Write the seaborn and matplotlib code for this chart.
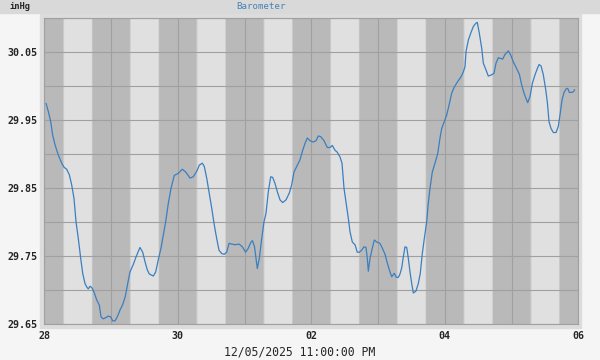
import numpy as np
import pandas as pd
import matplotlib
matplotlib.use("Agg")
import matplotlib.pyplot as plt
import seaborn as sns
from matplotlib.patches import Rectangle
from matplotlib.colors import to_rgb

# ---- data (hours since 28 Nov 00:00, barometer inHg) ----
hours = [0.61, 1.44, 2.30, 3.02, 3.85, 5.03, 6.26, 7.08, 8.05, 8.99, 9.85, 10.68, 11.40, 12.23,
         13.09, 13.81, 14.63, 15.25, 15.82, 16.43, 17.26, 17.98, 18.84, 19.78, 20.39, 21.21,
         22.18, 23.01, 23.87, 24.59, 25.42, 26.25, 27.22, 28.19, 29.12, 29.99, 30.81, 32.00,
         32.97, 34.41, 35.38, 36.21, 37.04, 37.75, 39.19, 40.06, 40.99, 41.96, 42.79, 43.65,
         44.59, 45.56, 46.74, 48.18, 49.62, 50.84, 52.39, 53.58, 54.80, 55.73, 56.81, 57.53,
         58.39, 59.22, 60.19, 61.12, 61.99, 62.81, 63.78, 64.72, 65.58, 66.41, 67.38, 68.57,
         70.00, 71.19, 72.41, 73.35, 74.32, 74.86, 75.58, 76.12, 76.59, 77.31, 78.17, 79.00,
         79.71, 80.54, 81.40, 82.12, 82.95, 83.78, 84.75, 85.72, 86.91, 88.09, 88.95, 89.78,
         90.97, 91.94, 92.91, 93.74, 94.56, 95.53, 96.72, 97.69, 98.52, 99.38, 100.57, 101.75,
         102.72, 103.55, 104.52, 105.35, 106.32, 107.04, 107.76, 108.48, 109.31, 109.92, 110.75,
         111.71, 112.54, 113.26, 114.12, 114.95, 115.67, 116.14, 116.50, 117.11, 117.94, 118.66,
         119.52, 120.70, 121.53, 122.50, 123.47, 124.30, 124.91, 125.84, 126.56, 127.28, 127.89,
         128.51, 129.08, 129.69, 130.31, 130.88, 131.49, 132.10, 132.68, 133.65, 134.47, 135.19,
         135.91, 136.63, 137.49, 138.07, 138.68, 139.51, 140.48, 141.45, 142.28, 142.89, 143.82,
         144.69, 145.51, 146.48, 147.42, 148.64, 149.83, 150.65, 151.27, 151.63, 152.46, 153.32,
         154.26, 155.23, 155.69, 156.41, 157.27, 157.85, 158.82, 159.64, 160.87, 161.69, 162.41,
         163.24, 164.10, 164.82, 165.65, 166.84, 167.70, 168.63, 169.85, 170.79, 171.65, 172.48,
         173.20, 173.81, 174.64, 175.46, 176.44, 177.26, 177.88, 178.60, 179.42, 180.29, 180.86,
         181.47, 182.19, 183.02, 183.99, 184.81, 185.43, 186.15, 186.87, 187.59, 188.19, 188.77,
         189.63, 190.21, 190.71]
pressure = [29.975, 29.963, 29.948, 29.928, 29.914, 29.899, 29.887, 29.881, 29.878, 29.870,
            29.855, 29.835, 29.801, 29.776, 29.747, 29.725, 29.710, 29.705, 29.702, 29.706,
            29.703, 29.696, 29.686, 29.678, 29.661, 29.658, 29.660, 29.662, 29.661, 29.655,
            29.655, 29.661, 29.671, 29.679, 29.691, 29.710, 29.727, 29.738, 29.749, 29.763,
            29.756, 29.742, 29.730, 29.724, 29.721, 29.727, 29.745, 29.762, 29.781, 29.801,
            29.828, 29.850, 29.869, 29.872, 29.878, 29.874, 29.865, 29.867, 29.875, 29.884,
            29.887, 29.882, 29.865, 29.845, 29.821, 29.796, 29.776, 29.759, 29.754, 29.753,
            29.756, 29.769, 29.768, 29.767, 29.768, 29.764, 29.756, 29.762, 29.771, 29.773,
            29.764, 29.747, 29.732, 29.747, 29.776, 29.801, 29.813, 29.845, 29.867, 29.866,
            29.857, 29.845, 29.833, 29.829, 29.833, 29.843, 29.855, 29.874, 29.884, 29.892,
            29.906, 29.916, 29.924, 29.920, 29.918, 29.920, 29.927, 29.926, 29.920, 29.910,
            29.910, 29.913, 29.906, 29.903, 29.896, 29.887, 29.850, 29.830, 29.806, 29.786,
            29.771, 29.767, 29.756, 29.756, 29.759, 29.764, 29.763, 29.747, 29.728, 29.747,
            29.762, 29.774, 29.771, 29.769, 29.762, 29.753, 29.738, 29.727, 29.720, 29.725,
            29.719, 29.719, 29.724, 29.733, 29.749, 29.764, 29.763, 29.747, 29.727, 29.710,
            29.696, 29.699, 29.710, 29.725, 29.754, 29.776, 29.801, 29.828, 29.850, 29.874,
            29.887, 29.901, 29.924, 29.938, 29.948, 29.958, 29.972, 29.990, 29.999, 30.007,
            30.014, 30.021, 30.029, 30.051, 30.068, 30.078, 30.088, 30.093, 30.094, 30.078,
            30.056, 30.034, 30.024, 30.015, 30.017, 30.019, 30.034, 30.042, 30.041, 30.040,
            30.047, 30.052, 30.046, 30.036, 30.026, 30.018, 30.002, 29.990, 29.982, 29.976,
            29.985, 30.004, 30.017, 30.026, 30.032, 30.030, 30.017, 29.995, 29.977, 29.948,
            29.938, 29.932, 29.932, 29.941, 29.958, 29.980, 29.991, 29.996, 29.997, 29.991,
            29.991, 29.992, 29.995]

day_labels = ["28", "30", "02", "04", "06"]
y_labels = ["29.65", "29.75", "29.85", "29.95", "30.05"]
n_days = 8
twilight_am = (6.6, 7.3)   # hours: dark -> light
twilight_pm = (16.9, 17.5) # hours: light -> dark
title = "Barometer"
unit = "inHg"
timestamp = "12/05/2025 11:00:00 PM"

df = pd.DataFrame({"hour": hours, "pressure": pressure})

# ---- styling ----
sns.set_style("white")
plt.rcParams["font.family"] = ["DejaVu Sans Mono", "DejaVu Sans"]

W, H = 600, 360
fig = plt.figure(figsize=(W / 100, H / 100), dpi=100, facecolor="#f5f5f5")
fig.patches.append(Rectangle((0, 1 - 13 / H), 1, 13 / H, transform=fig.transFigure,
                             color="#d9d9d9", zorder=-10))
fig.patches.append(Rectangle((40 / W, (H - 327.7) / H), (581 - 40) / W, (327.7 - 14.3) / H,
                             transform=fig.transFigure, color="#dcdcdc", zorder=-10))

ax = fig.add_axes([44.3 / W, (H - 324.3) / H, (578.3 - 44.3) / W, (324.3 - 18.3) / H])
ax.set_zorder(5)

night_c = np.array(to_rgb("#b9b9b9"))
day_c = np.array(to_rgb("#e0e0e0"))
ax.axvspan(0, n_days * 24, color=night_c, lw=0, zorder=0)
nsteps = 6
for d in range(n_days):
    base = d * 24
    ax.axvspan(base + twilight_am[1], base + twilight_pm[0], color=day_c, lw=0, zorder=0)
    for k in range(nsteps):
        f = (k + 0.5) / nsteps
        a0 = twilight_am[0] + (twilight_am[1] - twilight_am[0]) * k / nsteps
        a1 = twilight_am[0] + (twilight_am[1] - twilight_am[0]) * (k + 1) / nsteps
        ax.axvspan(base + a0, base + a1, color=night_c + (day_c - night_c) * f, lw=0, zorder=0)
        p0 = twilight_pm[0] + (twilight_pm[1] - twilight_pm[0]) * k / nsteps
        p1 = twilight_pm[0] + (twilight_pm[1] - twilight_pm[0]) * (k + 1) / nsteps
        ax.axvspan(base + p0, base + p1, color=day_c + (night_c - day_c) * f, lw=0, zorder=0)

sns.lineplot(data=df, x="hour", y="pressure", ax=ax, color="#3a7fc0", lw=0.9,
             estimator=None, sort=False, zorder=3)

ax.set_xlim(0, n_days * 24)
ax.set_ylim(29.65, 30.10)
ax.set_xticks(np.arange(0, n_days * 24 + 1, 48))
ax.set_xticklabels(day_labels)
ax.set_xticks(np.arange(0, n_days * 24 + 1, 24), minor=True)
ax.set_yticks([float(v) for v in y_labels])
ax.set_yticklabels(y_labels)
ax.set_yticks(np.arange(29.65, 30.1001, 0.05), minor=True)
ax.grid(True, which="both", color="#a0a0a0", lw=0.8)
ax.set_axisbelow(True)
ax.tick_params(which="both", length=0)
ax.tick_params(axis="x", pad=4.5, labelsize=7.2)
ax.tick_params(axis="y", pad=4.6, labelsize=7.2)
for lab in ax.get_xticklabels() + ax.get_yticklabels():
    lab.set_fontweight("bold")
ax.set_xlabel("")
ax.set_ylabel("")
for s in ax.spines.values():
    s.set_color("#a0a0a0")
    s.set_linewidth(0.8)

fig.text(9 / W, 1 - 6.7 / H, unit, ha="left", va="center", fontsize=6.3, fontweight="bold")
fig.text(261 / W, 1 - 6.7 / H, title, ha="center", va="center", fontsize=6.6, color="#4682b4")
fig.text(0.5, 1 - 351.7 / H, timestamp, ha="center", va="center", fontsize=8.3)

fig.savefig("out.png", dpi=100, facecolor=fig.get_facecolor())
